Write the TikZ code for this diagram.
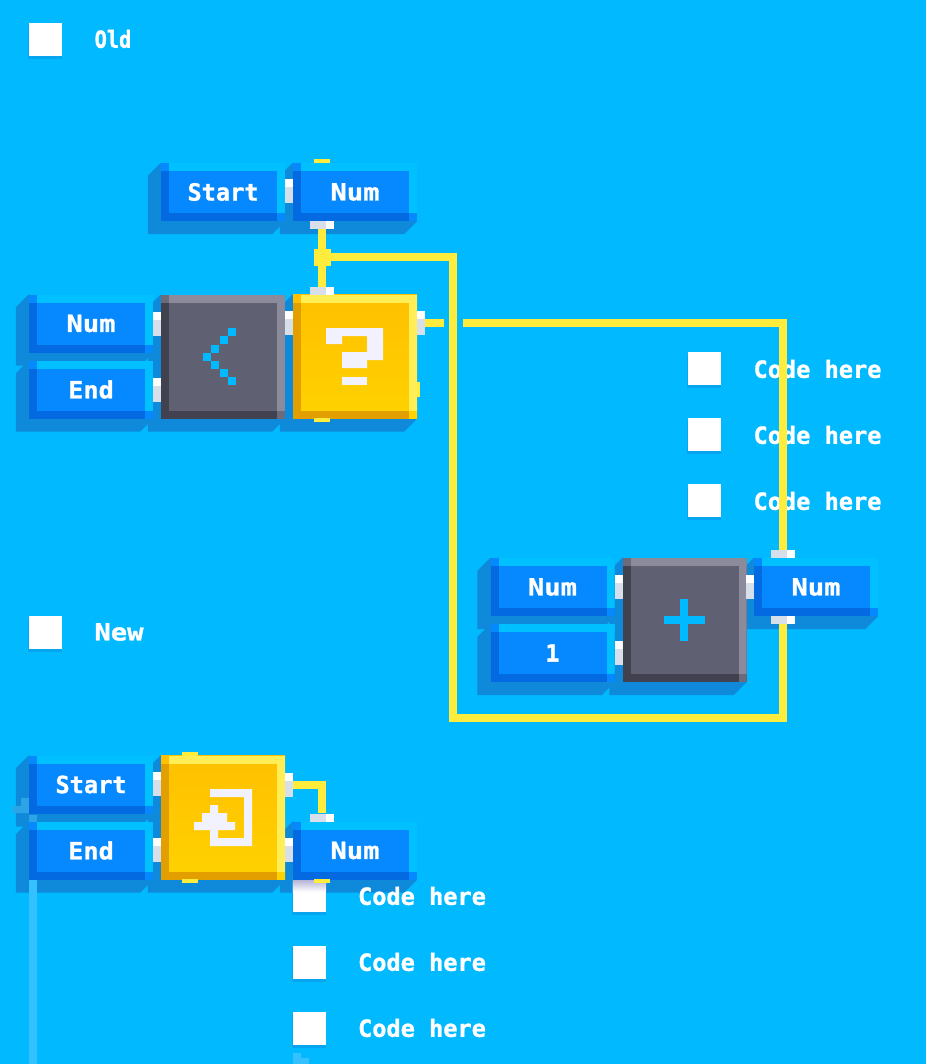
\documentclass[tikz,border=0pt]{standalone}
\usepackage{fontspec}
\setmonofont{DejaVu Sans Mono}[BoldFeatures={FakeBold=1.2}]
\usetikzlibrary{backgrounds}
\definecolor{skybg}{HTML}{00B9FF}
\definecolor{shadowbg}{HTML}{0F8ADB}
\definecolor{wireyel}{HTML}{FFEC3D}
\definecolor{portgrey}{HTML}{D6DFEA}
\definecolor{fadeline}{HTML}{35C0FF}
\definecolor{fadebit}{HTML}{2CA4E6}
\definecolor{valface}{HTML}{0688FF}
\definecolor{vallight}{HTML}{00C0FF}
\definecolor{valdark}{HTML}{046AE2}
\definecolor{opface}{HTML}{5F6072}
\definecolor{oplight}{HTML}{8B8B9C}
\definecolor{opdark}{HTML}{42414F}
\definecolor{opmid}{HTML}{6B6B7B}
\definecolor{flowface}{HTML}{FFC800}
\definecolor{flowlight}{HTML}{FFEE55}
\definecolor{flowdark}{HTML}{E39E00}
\definecolor{flowmid}{HTML}{FFC000}
\definecolor{flowend}{HTML}{FFD200}
\newcommand{\pixfont}{\fontsize{23.6}{26}\selectfont\ttfamily\bfseries}
\tikzset{
  bevel/.style n args={5}{fill=#1, draw=none, inner sep=0pt, path picture={
    \fill[#2] (path picture bounding box.north west) rectangle ([yshift=-8pt]path picture bounding box.north east);
    \fill[#2] (path picture bounding box.north east) rectangle ([xshift=-8pt]path picture bounding box.south east);
    \fill[#3] (path picture bounding box.north west) rectangle ([xshift=8pt]path picture bounding box.south west);
    \fill[#3] (path picture bounding box.south west) rectangle ([yshift=8pt]path picture bounding box.south east);
    \fill[#4] (path picture bounding box.north west) rectangle ([shift={(8pt,-8pt)}]path picture bounding box.north west);
    \fill[#5] (path picture bounding box.south east) rectangle ([shift={(-8pt,8pt)}]path picture bounding box.south east);
  }},
  valbox/.style={bevel={valface}{vallight}{valdark}{valface}{valface}, minimum width=124pt, minimum height=58pt, text=white, font=\pixfont},
  numbox/.style={valbox, font=\pixfont\addfontfeature{FakeStretch=1.15}},
  endbox/.style={valbox, font=\pixfont\addfontfeature{FakeStretch=1.07}},
  opbox/.style={bevel={opface}{oplight}{opdark}{opmid}{opmid}, minimum width=124pt, minimum height=124pt},
  flowbox/.style={bevel={flowface}{flowlight}{flowdark}{flowmid}{flowend}, top color=flowmid, bottom color=flowend, minimum width=124pt, minimum height=124pt},
  sideport/.style={fill=portgrey, inner sep=0pt, minimum width=8pt, minimum height=24pt, path picture={
    \fill[white] (path picture bounding box.north west) rectangle ([yshift=-8pt]path picture bounding box.north east);}},
  endport/.style={fill=portgrey, inner sep=0pt, minimum width=24pt, minimum height=8pt, path picture={
    \fill[white] (path picture bounding box.north east) rectangle ([xshift=-8pt]path picture bounding box.south east);}},
  tickmark/.style={fill=wireyel, inner sep=0pt, minimum width=16pt, minimum height=4pt},
  wire/.style={draw=wireyel, line width=8pt},
  checkbox/.style={fill=white, inner sep=0pt, minimum size=33pt},
  caption/.style={text=white, font=\pixfont, inner sep=0pt},
  icon/.style={fill=#1, draw=none},
}
\begin{document}
\begin{tikzpicture}[x=1pt,y=-1pt]
\useasboundingbox (0,0) rectangle (926,1064);
% old graph
\node[valbox] (start1) at (223,192) {Start};
\node[numbox] (num1) at (355,192) {Num};
\node[numbox] (num2) at (91,323.5) {Num};
\node[endbox] (end1) at (91,389.5) {End};
\node[opbox] (less) at (223,356.5) {};
\node[flowbox] (ask) at (355,356.5) {};
\node[sideport] (p1) at (289,191) {};
\node[endport] (p2) at (322,225) {};
\node[endport] (p3) at (322,291) {};
\node[sideport] (p4) at (157,324) {};
\node[sideport] (p5) at (157,390) {};
\node[sideport] (p6) at (289,323) {};
\node[sideport] (p7) at (421,323) {};
\node[tickmark] (t1) at (322,161) {};
\node[tickmark] (t2) at (322,420) {};
\node[fill=wireyel, inner sep=0pt, minimum width=3pt, minimum height=15pt] (t3) at (418.5,389.5) {};
% add graph
\node[numbox] (num3) at (552.5,587) {Num};
\node[valbox] (one) at (552.5,653) {1};
\node[opbox] (plus) at (684.5,620) {};
\node[numbox] (num4) at (816,587) {Num};
\node[sideport] (p8) at (618.5,587) {};
\node[sideport] (p9) at (618.5,653) {};
\node[sideport] (p10) at (750,587) {};
\node[endport] (p11) at (783,554) {};
\node[endport] (p12) at (783,620) {};
% new graph
\node[valbox] (start2) at (91,784.5) {Start};
\node[endbox] (end2) at (91,850.5) {End};
\node[flowbox] (enter) at (223,817.5) {};
\node[numbox] (num5) at (355,850.5) {Num};
\node[sideport] (p13) at (157,784) {};
\node[sideport] (p14) at (157,850) {};
\node[sideport] (p15) at (289,784.5) {};
\node[sideport] (p16) at (289,850) {};
\node[endport] (p17) at (322,817.5) {};
\node[tickmark] (t4) at (190,754) {};
\node[tickmark] (t5) at (190,881) {};
\node[tickmark] (t6) at (322,881) {};
% labels
\node[caption, anchor=center, font=\pixfont\addfontfeature{FakeStretch=0.86}] (lold) at (113,39) {Old};
\node[caption, anchor=center, font=\pixfont\addfontfeature{FakeStretch=1.15}] (lnew) at (119,632) {New};
\foreach \n/\j in {a/369,b/435,c/501}
  \node[caption, anchor=center] (code\n) at (817.5,\j) {Code here};
\foreach \n/\j in {d/896,e/962,f/1028}
  \node[caption, anchor=center] (code\n) at (422,\j) {Code here};
% wires
\node[fill=wireyel, inner sep=0pt, minimum size=17pt] (joint) at (322,257.5) {};
\coordinate (c1) at (453,257.5);
\coordinate (c2) at (453,718);
\coordinate (c3) at (783,718);
\coordinate (c4) at (783,323);
\coordinate (c5) at (463,323);
\coordinate (c6) at (444,323);
\coordinate (c7) at (322,784.5);
\path[wire] (p2.south) -- (joint.north);
\path[wire] (joint.south) -- (p3.north);
\path[wire] (joint.center) -- (c1) -- (c2) -- (c3) -- (p12.south);
\path[wire] (p11.north) -- (c4) -- (c5);
\path[wire] (p7.east) -- (c6);
\path[wire] (p15.east) -- (c7) -- (p17.north);
% icons
\foreach \i/\j in {232/332,223.5/340.2,215/348.5,206.5/356.5,215/364.7,223.5/373,232/381}
  \fill[icon=skybg] (\i-4,\j-4) rectangle (\i+4,\j+4);
\fill[icon=white!95!blue] (326,328) -- (383,328) -- (383,360) -- (367,360) -- (367,368) -- (342,368) -- (342,352) -- (367,352) -- (367,336) -- (342,336) -- (342,344) -- (326,344) -- cycle;
\fill[icon=white!95!blue] (342,377) rectangle (367,385);
\fill[icon=skybg] (664,616) rectangle (705,624);
\fill[icon=skybg] (680,599) rectangle (688,641);
\fill[icon=white!95!blue] (210,789) -- (252,789) -- (252,846) -- (210,846) -- (210,830) -- (194,830) -- (194,822) -- (202,822) -- (202,813) -- (210,813) -- (210,805) -- (218,805) -- (218,813) -- (227,813) -- (227,822) -- (235,822) -- (235,830) -- (218,830) -- (218,838) -- (244,838) -- (244,797) -- (210,797) -- cycle;
% checks and shadows underneath
\begin{pgfonlayer}{background}
\fill[skybg] (0,0) rectangle (926,1064);
\foreach \b in {start1,num1,num2,end1,less,ask,num3,one,plus,num4,start2,end2,enter,num5}
  \fill[shadowbg] (\b.north west) -- ++(-13,13) |- ([shift={(-13pt,-13pt)}]\b.south east) -- (\b.south east) -- cycle;
\fill[fadeline] (29,879) rectangle (37,1064);
\fill[fadebit] (13,806) -- (21,806) -- (21,798) -- (29,798) -- (29,813) -- (13,813) -- cycle;
\fill[fadebit] (29,815) rectangle (37,822);
\fill[fadeline] (293,1053) -- (301,1053) -- (301,1058) -- (309,1058) -- (309,1064) -- (293,1064) -- cycle;
\foreach \n/\i/\j in {old/45.5/39.5,new/45.5/632.5,ca/704.5/368.5,cb/704.5/434.5,cc/704.5/500.5,cd/309.5/895.5,ce/309.5/962,cf/309.5/1028}{
  \fill[shadowbg!45!skybg] (\i-18,\j-14) rectangle (\i+16.5,\j+19.5);
  \node[checkbox] (box\n) at (\i,\j) {};
}
\shade[top color=blue!30!gray!50!white, bottom color=white] (boxcd.north west) rectangle ([yshift=-13pt]boxcd.north east);
\end{pgfonlayer}
\end{tikzpicture}
\end{document}
